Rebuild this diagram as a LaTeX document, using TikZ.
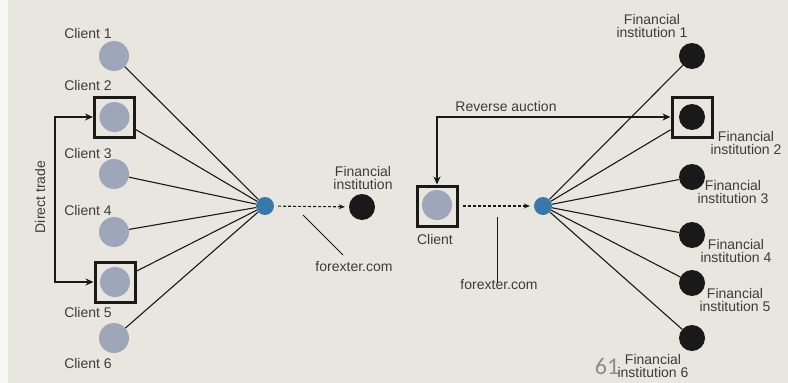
\documentclass[tikz,border=0pt]{standalone}
\usepackage{fontspec}
\setmainfont{Liberation Sans}
\newfontfamily\pagefont{Carlito}
\usetikzlibrary{arrows.meta}
\definecolor{paper}{RGB}{233,230,223}
\definecolor{margin}{RGB}{246,246,245}
\definecolor{clientfill}{RGB}{158,166,185}
\definecolor{hubfill}{RGB}{56,120,170}
\definecolor{inkdark}{RGB}{25,25,25}
\definecolor{labelink}{RGB}{60,60,60}
\tikzset{
  client/.style={circle,fill=clientfill,minimum size=30pt,inner sep=0pt},
  bank/.style={circle,fill=inkdark,minimum size=26pt,inner sep=0pt},
  hub/.style={circle,fill=hubfill,minimum size=18pt,inner sep=0pt},
  frame/.style={draw=inkdark,line width=3pt,minimum size=40pt,inner sep=0pt},
  link/.style={draw=inkdark,line width=1.1pt},
  flow/.style={draw=inkdark,line width=1.1pt,dash pattern=on 3pt off 2pt,shorten <=4pt,shorten >=4pt,-{Stealth[length=6pt,width=5pt]}},
  trade/.style={draw=inkdark,line width=2.8pt,{Stealth[length=8pt,width=7pt]}-{Stealth[length=8pt,width=7pt]}},
  leader/.style={draw=inkdark,line width=0.9pt},
  lbl/.style={text=labelink,font=\fontsize{14}{15}\selectfont,inner sep=0pt,align=center},
}
\begin{document}
\begin{tikzpicture}[x=1pt,y=-1pt]
  % page background
  \fill[paper] (0,0) rectangle (788,383);
  \fill[margin] (0,0) rectangle (8,383);
  \useasboundingbox (0,0) rectangle (788,383);

  % ---------- left: many clients, one institution ----------
  \node[client] (c1) at (114,56) {};
  \node[frame]  (s2) at (114.5,117) {};
  \node[client] (c2) at (114.5,117) {};
  \node[client] (c3) at (114,174) {};
  \node[client] (c4) at (114,232) {};
  \node[frame]  (s5) at (115,282) {};
  \node[client] (c5) at (115,282) {};
  \node[client] (c6) at (114,338) {};

  \node[lbl] (l1) at (88,33) {Client 1};
  \node[lbl] (l2) at (88,85) {Client 2};
  \node[lbl] (l3) at (88,153) {Client 3};
  \node[lbl] (l4) at (88,210) {Client 4};
  \node[lbl] (l5) at (88,312) {Client 5};
  \node[lbl] (l6) at (88,363) {Client 6};

  \node[hub]  (hl) at (265,206) {};
  \node[bank] (fl) at (362,207) {};
  \node[lbl]  (fll) at (363,178) {Financial\\[-2pt]institution};

  \foreach \n in {c1,s2,c3,c4,s5,c6} \draw[link] (\n) -- (hl);
  \draw[flow] (hl) -- (fl);

  \coordinate (fxA) at (303,215);
  \coordinate (fxB) at (343,255);
  \node[lbl] (fxl) at (354,267) {forexter.com};
  \draw[leader] (fxA) -- (fxB);

  % direct trade bracket
  \coordinate (dtT) at (55,117);
  \coordinate (dtB) at (55,282);
  \draw[trade] (s2.west) -- (dtT) -- (dtB) -- (s5.west);
  \node[lbl,rotate=90] (dtl) at (40,197) {Direct trade};

  % ---------- right: one client, many institutions ----------
  \node[frame]  (cs) at (437,206) {};
  \node[client] (cc) at (437,205) {};
  \node[lbl]    (ccl) at (435,239) {Client};

  \node[hub] (hr) at (543,206) {};
  \draw[flow] (cs) -- (hr);

  \coordinate (fxR) at (497,217);
  \node[lbl] (fxrl) at (499,285) {forexter.com};
  \draw[leader] (fxR) -- ([yshift=-3pt]fxrl.north -| fxR);

  \node[bank]  (b1) at (692,56) {};
  \node[frame] (bs2) at (692,117) {};
  \node[bank]  (b2) at (692,117) {};
  \node[bank]  (b3) at (692,177) {};
  \node[bank]  (b4) at (692,235) {};
  \node[bank]  (b5) at (692,283) {};
  \node[bank]  (b6) at (692,338) {};

  \node[lbl] (bl1) at (652,26) {Financial\\[-2pt]institution 1};
  \node[lbl] (bl2) at (746,143) {Financial\\[-2pt]institution 2};
  \node[lbl] (bl3) at (733,192) {Financial\\[-2pt]institution 3};
  \node[lbl] (bl4) at (736,251) {Financial\\[-2pt]institution 4};
  \node[lbl] (bl5) at (735,300) {Financial\\[-2pt]institution 5};
  \node[lbl] (bl6) at (653,366) {Financial\\[-2pt]institution 6};

  \foreach \n in {b1,bs2,b3,b4,b5,b6} \draw[link] (hr) -- (\n);

  % reverse auction bracket
  \coordinate (raC) at (437,117);
  \draw[trade] (cs.north) -- (raC) -- (bs2.west);
  \node[lbl] (ral) at (506,106) {Reverse auction};

  % page number
  \node[text=black!45,font=\pagefont\fontsize{24}{24}\selectfont,inner sep=0pt] (pg) at (607,366) {61};
\end{tikzpicture}
\end{document}
